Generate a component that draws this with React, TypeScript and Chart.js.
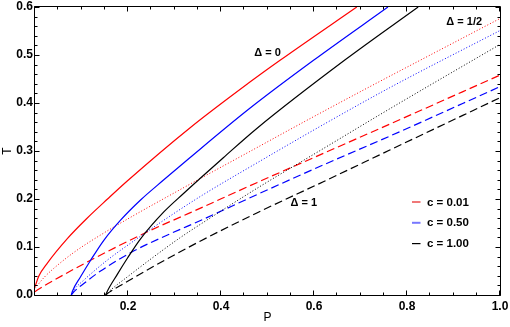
import React, { useEffect, useRef } from 'react';
import { Chart, registerables } from 'chart.js';
Chart.register(...registerables);

// Δ = 0 (solid)
const pRedSolid = [0, 0.008, 0.027, 0.07, 0.112, 0.156, 0.199, 0.333, 0.46, 0.527, 0.692];
const tRedSolid = [0.017, 0.039, 0.067, 0.118, 0.16, 0.2, 0.238, 0.348, 0.442, 0.489, 0.6];
const pBlueSolid = [0.078, 0.0805, 0.098, 0.12, 0.148, 0.184, 0.227, 0.277, 0.333, 0.462, 0.599, 0.759];
const tBlueSolid = [0, 0.008, 0.038, 0.073, 0.114, 0.156, 0.198, 0.24, 0.286, 0.389, 0.489, 0.6];
const pBlackSolid = [0.152, 0.155, 0.177, 0.199, 0.227, 0.277, 0.32, 0.353, 0.405, 0.477, 0.667, 0.824];
const tBlackSolid = [0, 0.007, 0.043, 0.077, 0.117, 0.173, 0.212, 0.241, 0.286, 0.347, 0.49, 0.6];
// Δ = 1/2 (dotted)
const pRedDot = [0, 0.02, 0.041, 0.084, 0.141, 0.213, 0.285, 0.356, 0.462, 0.581, 0.72, 0.85, 1.0];
const tRedDot = [0.014, 0.037, 0.056, 0.089, 0.125, 0.166, 0.205, 0.243, 0.299, 0.362, 0.434, 0.5, 0.576];
const pBlueDot = [0.078, 0.085, 0.105, 0.156, 0.213, 0.285, 0.36, 0.477, 0.62, 0.763, 1.0];
const tBlueDot = [0, 0.012, 0.031, 0.073, 0.113, 0.161, 0.208, 0.275, 0.355, 0.432, 0.551];
const pBlackDot = [0.152, 0.16, 0.199, 0.256, 0.313, 0.36, 0.477, 0.62, 0.763, 1.0];
const tBlackDot = [0, 0.008, 0.038, 0.08, 0.12, 0.15, 0.222, 0.305, 0.388, 0.522];
// Δ = 1 (dashed)
const pRedDash = [0, 0.02, 0.041, 0.105, 0.177, 0.249, 0.333, 0.477, 0.62, 0.763, 1.0];
const tRedDash = [0.007, 0.0195, 0.031, 0.065, 0.101, 0.135, 0.171, 0.234, 0.295, 0.356, 0.458];
const pBlueDash = [0.078, 0.085, 0.105, 0.141, 0.213, 0.285, 0.36, 0.477, 0.62, 0.763, 1.0];
const tBlueDash = [0, 0.008, 0.024, 0.05, 0.092, 0.125, 0.157, 0.209, 0.271, 0.331, 0.434];
const pBlackDash = [0.152, 0.16, 0.191, 0.263, 0.355, 0.477, 0.62, 0.763, 1.0];
const tBlackDash = [0, 0.006, 0.024, 0.064, 0.112, 0.171, 0.236, 0.302, 0.411];

const deltaLabels = ['Δ = 0', 'Δ = 1/2', 'Δ = 1'];
const legendLabels = ['c = 0.01', 'c = 0.50', 'c = 1.00'];
const cColors = ['#ff0000', '#0000ff', '#000000'];
const legendSwatch = ['#f07878', '#7878ff', '#000000'];

const deltaPos = [
  { x: 0.5, y: 0.504 },
  { x: 0.923, y: 0.569 },
  { x: 0.578, y: 0.191 },
];

const mk = (p: number[], t: number[]) => p.map((x, i) => ({ x, y: t[i] }));
const FONT = '"Liberation Sans", Arial, sans-serif';

const framePlugin = {
  id: 'frameTicks',
  afterDraw(chart: any) {
    const { ctx, chartArea: a, scales } = chart;
    const xs = scales.x;
    const ys = scales.y;
    ctx.save();
    ctx.strokeStyle = '#000';
    ctx.lineWidth = 1;
    const L = Math.round(a.left) - 0.5, R = Math.round(a.right) + 0.5;
    const T = Math.round(a.top) - 0.5, B = Math.round(a.bottom) + 0.5;
    ctx.beginPath();
    ctx.rect(L, T, R - L, B - T);
    ctx.stroke();
    ctx.beginPath();
    for (let i = 0; i <= 20; i++) {
      const px = Math.round(xs.getPixelForValue(i * 0.05)) - 0.5;
      const len = i % 4 === 0 ? 5 : 3;
      ctx.moveTo(px, B); ctx.lineTo(px, B - len);
      ctx.moveTo(px, T); ctx.lineTo(px, T + len);
    }
    for (let i = 0; i <= 30; i++) {
      const py = Math.round(ys.getPixelForValue(i * 0.02)) + 0.5;
      const len = i % 5 === 0 ? 5 : 3;
      ctx.moveTo(L, py); ctx.lineTo(L + len, py);
      ctx.moveTo(R, py); ctx.lineTo(R - len, py);
    }
    ctx.stroke();

    // Δ annotations
    ctx.fillStyle = '#000';
    ctx.font = 'bold 11px ' + FONT;
    ctx.textAlign = 'center';
    ctx.textBaseline = 'middle';
    deltaLabels.forEach((s, i) => {
      ctx.fillText(s, xs.getPixelForValue(deltaPos[i].x), ys.getPixelForValue(deltaPos[i].y));
    });

    // legend
    const lx0 = a.left + 377;
    const ly0 = a.top + 195;
    ctx.textAlign = 'left';
    ctx.font = 'bold 11.5px ' + FONT;
    legendLabels.forEach((s, i) => {
      const yy = ly0 + i * 20.8;
      ctx.strokeStyle = legendSwatch[i];
      ctx.lineWidth = i === 2 ? 1.2 : 2;
      ctx.beginPath();
      ctx.moveTo(lx0, yy);
      ctx.lineTo(lx0 + 8.5, yy);
      ctx.stroke();
      ctx.fillStyle = '#000';
      ctx.fillText(s, lx0 + 15, yy + 0.5);
    });
    ctx.restore();
  },
};

export default function App() {
  const ref = useRef<HTMLCanvasElement>(null);
  useEffect(() => {
    document.body.style.margin = '0';
    const solid: number[] = [];
    const dotted = [1, 2];
    const dashed = [8, 4];
    const ds = (p: number[], t: number[], color: string, dash: number[], w: number) => ({
      data: mk(p, t),
      borderColor: color,
      borderWidth: w,
      borderDash: dash,
      pointRadius: 0,
      fill: false,
      cubicInterpolationMode: 'monotone' as const,
    });
    const chart = new Chart(ref.current as HTMLCanvasElement, {
      type: 'line',
      data: {
        datasets: [
          ds(pRedSolid, tRedSolid, cColors[0], solid, 1.2),
          ds(pBlueSolid, tBlueSolid, cColors[1], solid, 1.2),
          ds(pBlackSolid, tBlackSolid, cColors[2], solid, 1.2),
          ds(pRedDot, tRedDot, cColors[0], dotted, 1),
          ds(pBlueDot, tBlueDot, cColors[1], dotted, 1),
          ds(pBlackDot, tBlackDot, cColors[2], dotted, 1),
          ds(pRedDash, tRedDash, cColors[0], dashed, 1.2),
          ds(pBlueDash, tBlueDash, cColors[1], dashed, 1.2),
          ds(pBlackDash, tBlackDash, cColors[2], dashed, 1.2),
        ],
      },
      options: {
        animation: false,
        responsive: false,
        devicePixelRatio: 1,
        layout: { padding: { top: 7, right: 10, left: 0, bottom: 0 } },
        plugins: { legend: { display: false }, tooltip: { enabled: false } },
        scales: {
          x: {
            type: 'linear',
            min: 0,
            max: 1,
            grid: { display: false, drawTicks: false },
            border: { display: false },
            ticks: {
              stepSize: 0.2,
              padding: 4,
              color: '#000',
              font: { family: FONT, size: 12, weight: 'bold' },
              maxRotation: 0,
              callback: (v: any) => (Math.abs(v) < 1e-9 ? '' : Number(v).toFixed(1)),
            },
            title: {
              display: true,
              text: 'P',
              color: '#000',
              font: { family: FONT, size: 12 },
              padding: { top: 0, bottom: 2 },
            },
            afterFit: (s: any) => {
              s.height = 32;
              s.paddingLeft = 0;
              s.paddingRight = 0;
            },
          },
          y: {
            type: 'linear',
            min: 0,
            max: 0.6,
            grid: { display: false, drawTicks: false },
            border: { display: false },
            ticks: {
              stepSize: 0.1,
              padding: 2,
              color: '#000',
              font: { family: FONT, size: 12, weight: 'bold' },
              callback: (v: any) => Number(v).toFixed(1),
            },
            title: {
              display: true,
              text: 'T',
              color: '#000',
              font: { family: FONT, size: 12 },
              padding: { top: 0, bottom: 0 },
            },
            afterFit: (s: any) => {
              s.width = 35;
              s.paddingTop = 0;
              s.paddingBottom = 0;
            },
          },
        },
      },
      plugins: [framePlugin],
    } as any);
    return () => chart.destroy();
  }, []);
  return (
    <div style={{ width: 510, height: 327 }}>
      <canvas ref={ref} width={510} height={327} />
    </div>
  );
}
